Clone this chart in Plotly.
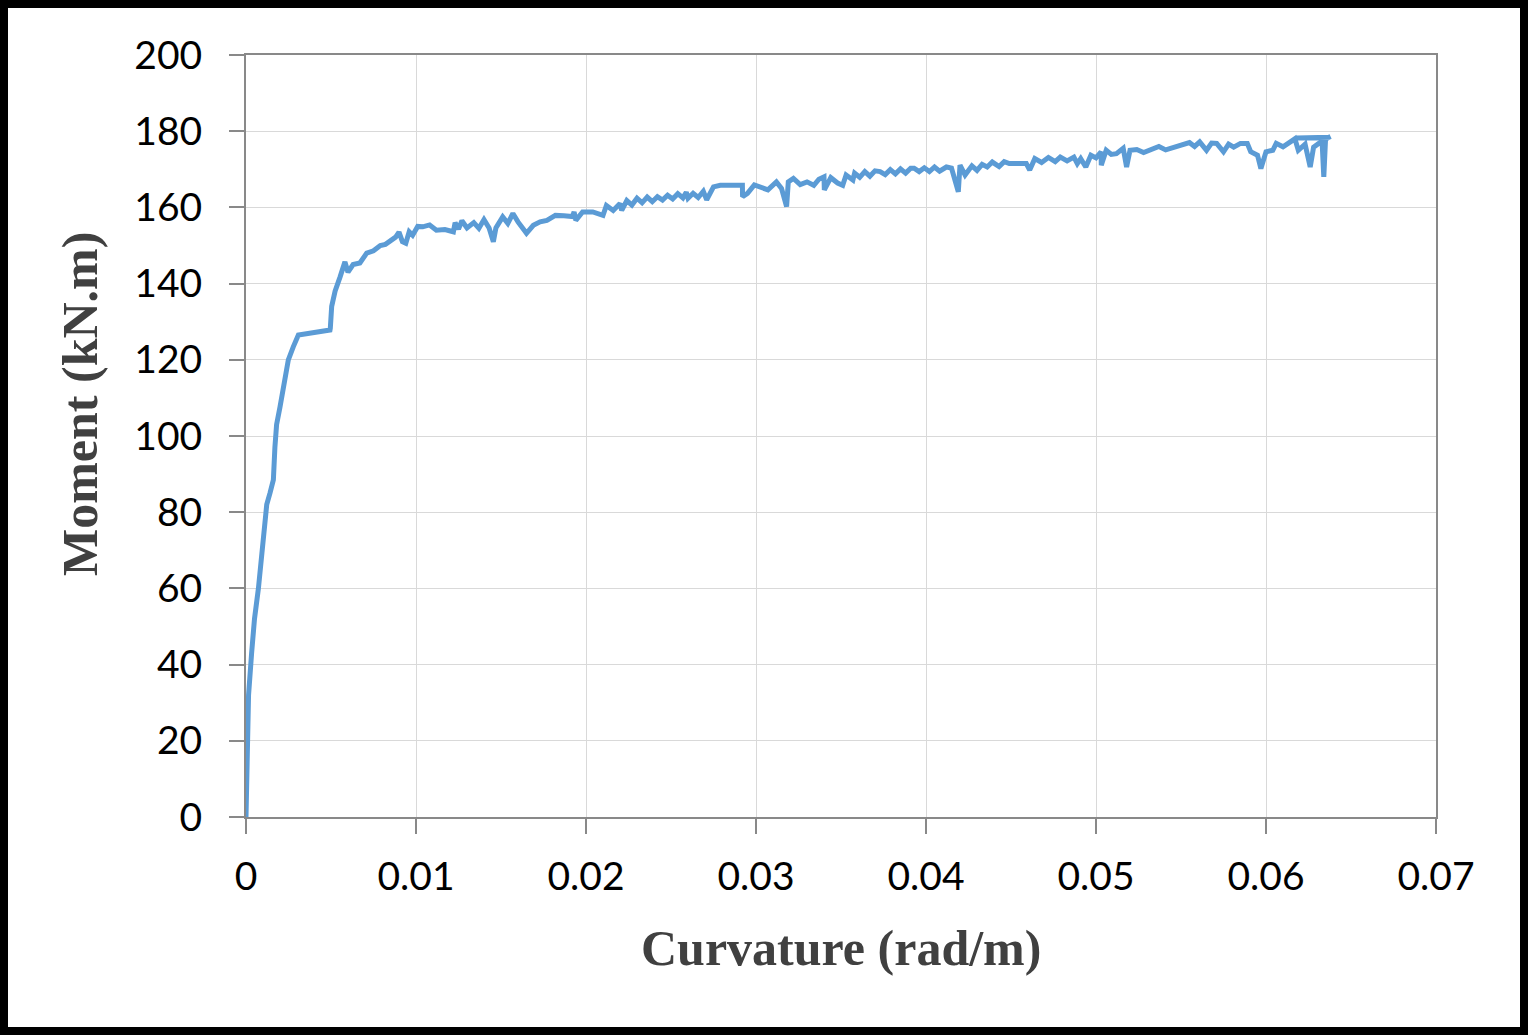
import plotly.graph_objects as go

# Curvature (rad/m) and Moment (kN.m)
curvature = [
    0.0, 0.00006, 0.00015, 0.00033, 0.0005, 0.00073, 0.00092, 0.00122, 0.00141, 0.00161,
    0.0017, 0.0018, 0.002, 0.0022, 0.00249, 0.00278, 0.00308, 0.00494, 0.00496, 0.00504,
    0.00524, 0.00553, 0.00582, 0.0060, 0.0063, 0.0067, 0.0071, 0.0075, 0.0079, 0.0082,
    0.0085, 0.0088, 0.0090, 0.0092, 0.0094, 0.0096, 0.0098, 0.0101, 0.0104, 0.0108,
    0.0112, 0.0117, 0.0122, 0.0123, 0.0125, 0.0127, 0.0130, 0.0134, 0.0137, 0.0140,
    0.0143, 0.01455, 0.0147, 0.0151, 0.0154, 0.0157, 0.0160, 0.0165, 0.0169, 0.0173,
    0.0177, 0.0182, 0.0187, 0.0192, 0.0193, 0.0194, 0.0198, 0.0204, 0.0210, 0.0212,
    0.0216, 0.0220, 0.0221, 0.0224, 0.0227, 0.0230, 0.0233, 0.0236, 0.0239, 0.0242,
    0.0245, 0.0248, 0.0251, 0.0254, 0.0257, 0.0259, 0.0260, 0.0263, 0.0266, 0.0269,
    0.0271, 0.0275, 0.0279, 0.0292, 0.02921, 0.0295, 0.0299, 0.0303, 0.0307, 0.0312,
    0.0315, 0.0318, 0.0319, 0.0322, 0.0326, 0.0330, 0.0334, 0.0337, 0.0340, 0.03402,
    0.0344, 0.0348, 0.0351, 0.0353, 0.0357, 0.0358, 0.0361, 0.0364, 0.0367, 0.0370,
    0.0373, 0.0376, 0.0379, 0.0382, 0.0385, 0.0388, 0.0391, 0.0393, 0.0396, 0.0399,
    0.0402, 0.0405, 0.0408, 0.0412, 0.0415, 0.0419, 0.0420, 0.0423, 0.0427, 0.0430,
    0.0433, 0.0436, 0.0439, 0.0443, 0.0446, 0.0449, 0.0454, 0.0459, 0.0461, 0.0464,
    0.0468, 0.0472, 0.0476, 0.0479, 0.0483, 0.0487, 0.0489, 0.0491, 0.0494, 0.0497,
    0.0500, 0.0503, 0.05031, 0.0506, 0.0509, 0.0512, 0.0516, 0.0518, 0.0520, 0.0524,
    0.0528, 0.0532, 0.0537, 0.0541, 0.0545, 0.0550, 0.0555, 0.0558, 0.0561, 0.0565,
    0.0568, 0.0571, 0.0575, 0.0578, 0.0581, 0.0585, 0.0589, 0.0591, 0.0595, 0.0597,
    0.0600, 0.0604, 0.0606, 0.0610, 0.0614, 0.0617, 0.0619, 0.0623, 0.0626, 0.0628,
    0.0631, 0.0633, 0.0634, 0.0635, 0.0636, 0.0618, 0.0637, 0.0638,
]
moment = [
    0.0, 20.0, 32.0, 43.0, 52.0, 60.0, 69.0, 82.0, 85.0, 88.5,
    97.0, 103.0, 107.6, 113.0, 120.0, 123.4, 126.5, 127.8, 128.3, 134.0,
    138.0, 141.7, 145.7, 143.0, 145.0, 145.4, 148.0, 148.6, 150.0, 150.3,
    151.4, 152.2, 153.5, 151.0, 150.6, 153.6, 152.7, 155.0, 154.9, 155.4,
    154.0, 154.2, 153.6, 156.0, 154.3, 156.5, 154.6, 156.0, 154.5, 156.8,
    154.6, 151.0, 154.6, 157.5, 155.8, 158.4, 156.2, 153.2, 155.3, 156.2,
    156.6, 157.9, 157.8, 157.6, 158.8, 156.6, 158.8, 158.8, 157.9, 160.5,
    159.2, 161.0, 159.2, 161.8, 160.6, 162.4, 161.2, 162.7, 161.5, 162.8,
    161.9, 163.2, 162.2, 163.6, 162.5, 164.0, 162.4, 163.7, 162.6, 164.2,
    162.0, 165.4, 165.8, 165.8, 162.8, 163.7, 165.9, 165.4, 164.6, 166.7,
    165.0, 160.2, 166.7, 167.6, 166.0, 166.7, 165.8, 167.4, 168.0, 164.6,
    167.8, 166.4, 165.8, 168.5, 167.2, 169.0, 167.9, 169.4, 168.2, 169.6,
    169.4, 168.6, 169.9, 168.8, 170.1, 169.0, 170.3, 170.3, 169.4, 170.4,
    169.4, 170.6, 169.5, 170.6, 170.3, 164.1, 171.1, 168.5, 170.9, 169.7,
    171.3, 170.6, 171.9, 170.7, 172.0, 171.5, 171.5, 171.5, 169.8, 172.8,
    171.8, 173.1, 172.0, 173.2, 172.2, 173.2, 171.5, 172.8, 170.6, 173.7,
    173.0, 174.6, 171.1, 175.0, 173.9, 174.1, 175.5, 170.6, 175.0, 175.2,
    174.4, 175.0, 176.0, 175.1, 175.6, 176.5, 177.0, 176.0, 177.2, 175.0,
    176.9, 176.8, 174.6, 176.6, 175.8, 176.8, 176.8, 174.6, 173.7, 170.2,
    174.6, 175.0, 176.8, 175.9, 177.2, 178.0, 175.0, 176.6, 170.6, 175.8,
    176.8, 177.2, 168.0, 177.6, 178.2, 178.2, 178.4, 178.6,
]

x_tick_vals = [0, 0.01, 0.02, 0.03, 0.04, 0.05, 0.06, 0.07]
x_tick_text = ["0", "0.01", "0.02", "0.03", "0.04", "0.05", "0.06", "0.07"]
y_tick_vals = [0, 20, 40, 60, 80, 100, 120, 140, 160, 180, 200]
y_tick_text = ["0", "20", "40", "60", "80", "100", "120", "140", "160", "180", "200"]

x_title = "Curvature (rad/m)"
y_title = "Moment (kN.m)"

fig = go.Figure()
fig.add_trace(go.Scatter(
    x=curvature, y=moment, mode="lines",
    line=dict(color="#5b9bd5", width=5),
    showlegend=False, hoverinfo="skip",
))

tick_font = dict(family="Lato, 'Open Sans', sans-serif", size=39, color="#000000")
title_font = dict(family="'Liberation Serif', 'Times New Roman', serif", size=50, color="#404040")

fig.update_layout(
    width=1531, height=1036,
    margin=dict(l=246, r=95, t=55, b=219),
    paper_bgcolor="white", plot_bgcolor="white",
    showlegend=False,
    xaxis=dict(
        range=[0, 0.07], tickvals=x_tick_vals, ticktext=x_tick_text,
        showgrid=True, gridcolor="#d9d9d9", gridwidth=1,
        showline=True, linecolor="#898989", linewidth=2, mirror=True,
        ticks="outside", ticklen=15, tickwidth=2, tickcolor="#898989",
        tickfont=tick_font, ticklabelstandoff=9, zeroline=False,
    ),
    yaxis=dict(
        range=[0, 200], tickvals=y_tick_vals, ticktext=y_tick_text,
        showgrid=True, gridcolor="#d9d9d9", gridwidth=1,
        showline=True, linecolor="#898989", linewidth=2, mirror=True,
        ticks="outside", ticklen=15, tickwidth=2, tickcolor="#898989",
        tickfont=tick_font, ticklabelstandoff=19, zeroline=False,
    ),
    shapes=[dict(
        type="rect", xref="paper", yref="paper",
        x0=-0.20336, x1=1.07395, y0=-0.28084, y1=1.06693,
        line=dict(color="black", width=8), fillcolor="rgba(0,0,0,0)", layer="above",
    )],
    annotations=[
        dict(text="<b>" + x_title + "</b>", xref="paper", yref="paper",
             x=0.5, y=-0.1719, xanchor="center", yanchor="middle",
             showarrow=False, font=title_font),
        dict(text="<b>" + y_title + "</b>", xref="paper", yref="paper",
             x=-0.1395, y=0.542, xanchor="center", yanchor="middle",
             textangle=-90, showarrow=False, font=title_font),
    ],
)

fig.write_html("out.html")
